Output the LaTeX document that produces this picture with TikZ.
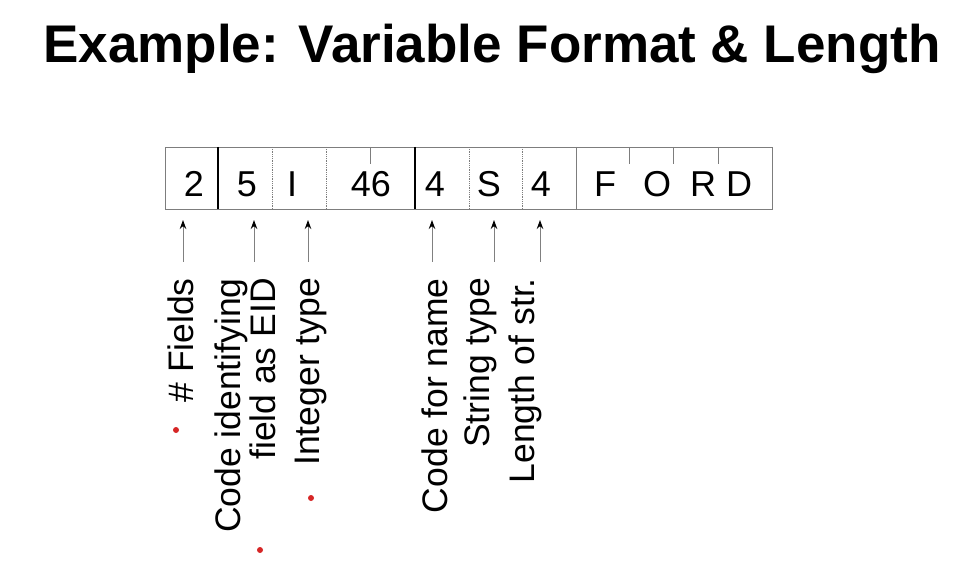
\documentclass[tikz,border=0pt]{standalone}
\usepackage{fontspec}
\setmainfont{Liberation Sans}
\usetikzlibrary{positioning,arrows.meta}
\usepackage{xcolor}
\definecolor{lgray}{RGB}{125,125,125}
\definecolor{pinred}{RGB}{214,38,38}

\begin{document}
\begin{tikzpicture}[x=1pt, y=-1pt,
    val/.style={anchor=base, inner sep=0pt, font=\fontsize{36}{36}\selectfont},
    lbl/.style={rotate=90, anchor=base east, inner sep=0pt, align=right, font=\fontsize{35.5}{30}\selectfont},
    thicksep/.style={draw=black, line width=2.6pt},
    dotsep/.style={draw=lgray, line width=0.8pt, densely dotted},
    tick/.style={draw=lgray, line width=0.9pt},
    pointer/.style={draw=gray, line width=1pt, -{Stealth[length=9pt, width=6.5pt, black]}}]

        \useasboundingbox (0,0) rectangle (970,564);

        \node[anchor=base, inner sep=0pt, font=\bfseries\fontsize{53}{53}\selectfont] (title) at (492,63) {Example: Variable Format \& Length};

        % the record
        \draw[tick] (165,147) rectangle (772,209);
        \foreach \x in {218,415} {
            \draw[thicksep] (\x,147) -- (\x,209);
        }
        \foreach \x in {272,326,469,522} {
            \draw[dotsep] (\x,147) -- (\x,209);
        }
        \draw[tick] (576,147) -- (576,209);
        \foreach \x in {370,629,673,718} {
            \draw[tick] (\x,147) -- (\x,164);
        }

        \foreach \t/\x [count=\c] in {2/194, 5/247, I/292, 46/371, 4/435, S/489, 4/541, F/605, O/657, R/703, D/739} {
            \node[val] (v\c) at (\x,197) {\t};
        }

        % pointers
        \foreach \x [count=\c] in {183,254,308,432,494,540} {
            \coordinate (tail\c) at (\x,262);
            \coordinate (tip\c) at (\x,220);
            \draw[pointer] (tail\c) -- (tip\c);
        }

        \node[lbl] (fields) at (193,278) {\# Fields};
        \node[lbl] (eid) at (275,278) {Code identifying\\field as EID};
        \node[lbl] (inttype) at (319,278) {Integer type};
        \node[lbl] (namecode) at (447,278) {Code for name};
        \node[lbl] (strtype) at (489,278) {String type};
        \node[lbl] (strlen) at (534,278) {Length of str.};

        % pen marks
        \foreach \p in {(176,430),(260,550),(311,498)} {
            \fill[pinred] \p circle (3);
        }

    \end{tikzpicture}
\end{document}
